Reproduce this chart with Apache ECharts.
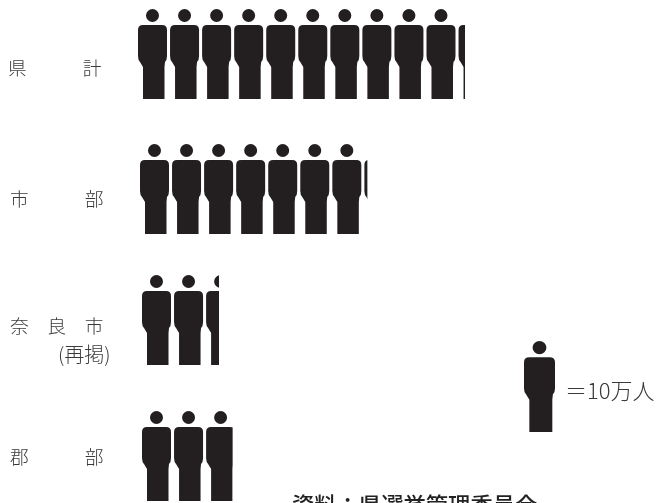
<!DOCTYPE html>
<html><head><meta charset="utf-8">
<style>html,body{margin:0;padding:0;background:#fff}#c{width:656px;height:503px}</style>
<script src="https://cdn.jsdelivr.net/npm/echarts@6/dist/echarts.min.js"></script>
</head><body><div id="c"></div>
<script>
const categories = ['県　　　計','市　　　部','奈　良　市','郡　　　部'];
const values = [10.28, 7.15, 2.42, 2.85];
const legendValue = [1];
const legendLabel = '＝10万人';
const subNote = '(再掲)';
const source = '資料：県選挙管理委員会';

const rowLeft = [138,140,142,142];
const rowTop = [9,144,275,411];
const labelLeft = [8,10,10,10];
const labelShift = [27,20,12,2];
const unit = 31.8, rowH = 90;
const person = 'path://M14.5,0 a6.5,6.5 0 1,1 -0.01,0 Z M5,16 H24 Q29,16 29,21 V47 Q29,51 27,53 L26.5,58 V90 H5 V58 L2,53 Q0,51 0,47 V21 Q0,16 5,16 Z';
const ink = '#231f20', textInk = '#3a3a3a';
const font = '"Noto Sans CJK JP"';

const grids=[],xAxes=[],yAxes=[],series=[];
categories.forEach((c,i)=>{
  grids.push({left:rowLeft[i],top:rowTop[i],width:unit*12,height:rowH});
  xAxes.push({gridIndex:i,type:'value',min:0,max:12,show:false});
  yAxes.push({gridIndex:i,type:'category',data:[c],axisLine:{show:false},axisTick:{show:false},
    axisLabel:{align:'left',margin:rowLeft[i]-labelLeft[i],formatter:v=>'{t|'+v+'}',
      rich:{t:{fontFamily:font,fontSize:18.7,fontWeight:300,color:textInk,padding:[labelShift[i],0,0,0]}}}});
  series.push({type:'pictorialBar',xAxisIndex:i,yAxisIndex:i,data:[values[i]],symbol:person,
    symbolRepeat:true,symbolSize:[29,rowH],symbolMargin:2.8,symbolClip:true,symbolPosition:'start',
    itemStyle:{color:ink},silent:true,animation:false});
});
grids.push({left:524,top:341,width:40,height:91});
xAxes.push({gridIndex:4,type:'value',min:0,max:1.3,show:false});
yAxes.push({gridIndex:4,type:'category',data:[''],show:false});
series.push({type:'pictorialBar',xAxisIndex:4,yAxisIndex:4,data:legendValue,symbol:person,
  symbolSize:[31,91],symbolPosition:'start',symbolRepeat:false,itemStyle:{color:ink},silent:true,animation:false});

const chart=echarts.init(document.getElementById('c'),null,{renderer:'canvas'});
chart.setOption({animation:false,backgroundColor:'#fff',grid:grids,xAxis:xAxes,yAxis:yAxes,series,
  graphic:[
    {type:'text',left:58,top:344,style:{text:subNote,fontFamily:font,fontSize:20,fontWeight:300,fill:textInk}},
    {type:'text',left:565,top:380,style:{text:legendLabel,fontFamily:font,fontSize:22,fontWeight:300,fill:textInk}},
    {type:'text',left:292,top:494,style:{text:source,fontFamily:font,fontSize:22.3,fontWeight:500,fill:'#222'}}
  ]});
</script></body></html>
